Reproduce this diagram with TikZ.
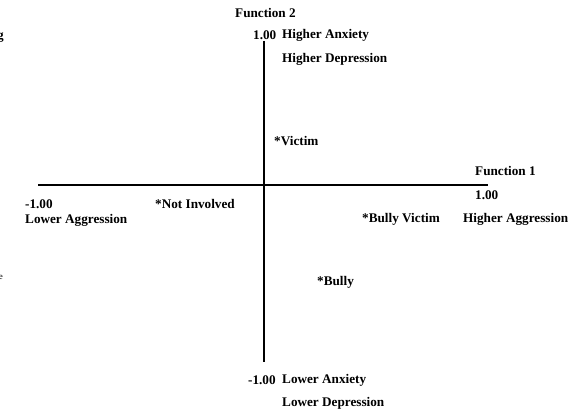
\documentclass[tikz,border=0pt]{standalone}
\usepackage{fontspec}
\setmainfont{Liberation Serif}
\begin{document}
\begin{tikzpicture}[x=1pt,y=-1pt,
  lbl/.style={anchor=west,inner sep=0pt,font=\fontsize{13.2}{15}\selectfont\bfseries},
  axis/.style={line width=2pt}]
\useasboundingbox (0,0) rectangle (570,414);
% axes
\coordinate (vtop) at (263.5,41);
\coordinate (vbot) at (263.5,362);
\coordinate (hl) at (38,185);
\coordinate (hr) at (488,185);
\draw[axis] (vtop) -- (vbot);
\draw[axis] (hl) -- (hr);
% labels
\node[lbl] (f2) at (235,13) {Function 2};
\node[lbl] (p2) at (253,35) {1.00};
\node[lbl] (ha) at (282,35) {Higher Anxiety};
\node[lbl] (hd) at (282,59) {Higher Depression};
\node[lbl] (vi) at (274,141) {*Victim};
\node[lbl] (f1) at (475,171) {Function 1};
\node[lbl] (p1) at (475,195) {1.00};
\node[lbl] (m1) at (25,204) {-1.00};
\node[lbl] (la) at (25,220) {Lower Aggression};
\node[lbl] (ni) at (155,204) {*Not Involved};
\node[lbl] (bv) at (362,219) {*Bully Victim};
\node[lbl] (hg) at (463,219) {Higher Aggression};
\node[lbl] (bu) at (317,282) {*Bully};
\node[lbl] (m2) at (248,380) {-1.00};
\node[lbl] (lx) at (282,380) {Lower Anxiety};
\node[lbl] (ld) at (282,403) {Lower Depression};
% clipped fragments at left edge
\node[anchor=east,inner sep=0pt,font=\fontsize{13.2}{15}\selectfont\bfseries] (fg) at (4,38) {g};
\node[anchor=east,inner sep=0pt,font=\fontsize{9}{10}\selectfont] (fe) at (3,277) {e};
\end{tikzpicture}
\end{document}
